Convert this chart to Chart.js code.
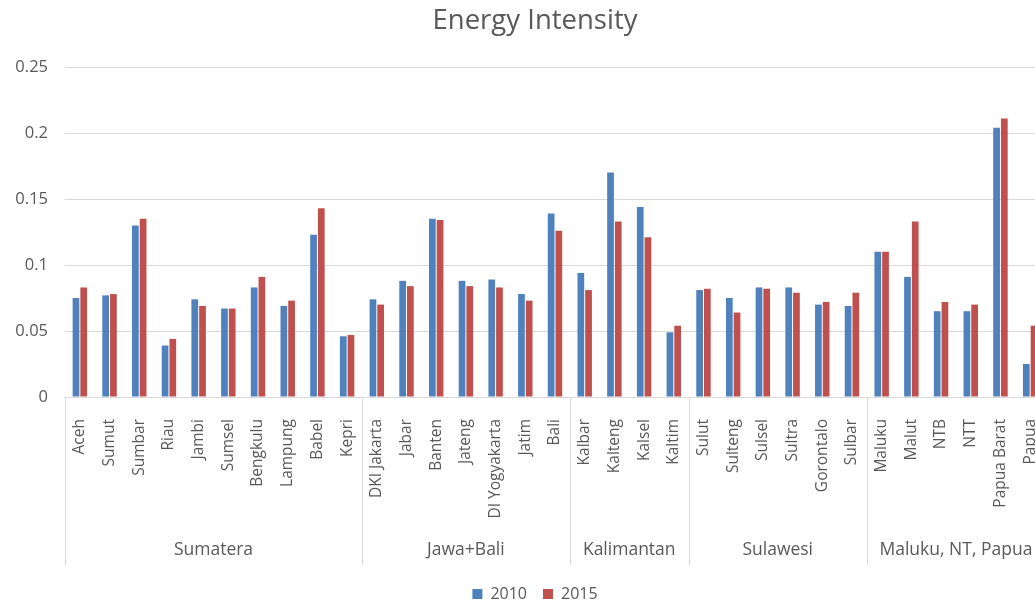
<!DOCTYPE html>
<html>
<head>
<meta charset="utf-8">
<script src="https://cdn.jsdelivr.net/npm/chart.js@4/dist/chart.umd.min.js"></script>
<style>
  html, body { margin: 0; padding: 0; background: #fff; overflow: hidden; }
  #wrap { width: 1072px; height: 612px; }
</style>
</head>
<body>
<div id="wrap"><canvas id="energyChart" width="1072" height="612"></canvas></div>
<script>
const provinces = ['Aceh', 'Sumut', 'Sumbar', 'Riau', 'Jambi', 'Sumsel', 'Bengkulu', 'Lampung', 'Babel', 'Kepri',
  'DKI Jakarta', 'Jabar', 'Banten', 'Jateng', 'DI Yogyakarta', 'Jatim', 'Bali',
  'Kalbar', 'Kalteng', 'Kalsel', 'Kaltim',
  'Sulut', 'Sulteng', 'Sulsel', 'Sultra', 'Gorontalo', 'Sulbar',
  'Maluku', 'Malut', 'NTB', 'NTT', 'Papua Barat', 'Papua'];

const intensity2010 = [0.075, 0.077, 0.130, 0.039, 0.074, 0.067, 0.083, 0.069, 0.123, 0.046,
  0.074, 0.088, 0.135, 0.088, 0.089, 0.078, 0.139,
  0.094, 0.170, 0.144, 0.049,
  0.081, 0.075, 0.083, 0.083, 0.070, 0.069,
  0.110, 0.091, 0.065, 0.065, 0.204, 0.025];

const intensity2015 = [0.083, 0.078, 0.135, 0.044, 0.069, 0.067, 0.091, 0.073, 0.143, 0.047,
  0.070, 0.084, 0.134, 0.084, 0.083, 0.073, 0.126,
  0.081, 0.133, 0.121, 0.054,
  0.082, 0.064, 0.082, 0.079, 0.072, 0.079,
  0.110, 0.133, 0.072, 0.070, 0.211, 0.054];

const islandNames = ['Sumatera', 'Jawa+Bali', 'Kalimantan', 'Sulawesi', 'Maluku, NT, Papua'];
const islandSizes = [10, 7, 4, 6, 6];

const gridGray = '#d9d9d9';
const textGray = '#595959';
const fontFamily = '"Open Sans", Lato, sans-serif';

// second row of the category axis: island names and the lines between them
const islandGroups = {
  id: 'islandGroups',
  afterDraw(chart) {
    const x = chart.scales.x;
    const ctx = chart.ctx;
    const top = chart.chartArea.bottom;
    const bottom = top + 168;
    const half = (x.getPixelForValue(1) - x.getPixelForValue(0)) / 2;

    ctx.save();
    ctx.strokeStyle = gridGray;
    ctx.lineWidth = 1;
    ctx.fillStyle = textGray;
    ctx.font = '17.5px ' + fontFamily;
    ctx.textAlign = 'center';
    ctx.textBaseline = 'middle';

    let start = 0;
    islandNames.forEach((name, i) => {
      const end = start + islandSizes[i];
      const left = x.getPixelForValue(start) - half;
      const right = x.getPixelForValue(end - 1) + half;
      const lx = Math.round(left) + 0.5;
      ctx.beginPath();
      ctx.moveTo(lx, top);
      ctx.lineTo(lx, bottom);
      ctx.stroke();
      ctx.fillText(name, (left + right) / 2, top + 153);
      start = end;
    });
    ctx.restore();
  }
};

new Chart(document.getElementById('energyChart'), {
  type: 'bar',
  data: {
    labels: provinces,
    datasets: [{
      label: '2010',
      data: intensity2010,
      backgroundColor: '#4f81bd',
      categoryPercentage: 0.52,
      barPercentage: 0.87
    }, {
      label: '2015',
      data: intensity2015,
      backgroundColor: '#c0504d',
      categoryPercentage: 0.52,
      barPercentage: 0.87
    }]
  },
  options: {
    responsive: false,
    animation: false,
    layout: { padding: { left: 13, right: 15, top: 0, bottom: 0 } },
    plugins: {
      title: {
        display: true,
        text: 'Energy Intensity',
        color: textGray,
        font: { family: fontFamily, size: 27.5, weight: 'normal' },
        padding: { top: 5, bottom: 29 }
      },
      legend: {
        position: 'bottom',
        labels: {
          color: textGray,
          font: { family: fontFamily, size: 16 },
          boxWidth: 10,
          boxHeight: 10,
          padding: 16
        }
      },
      tooltip: { enabled: false }
    },
    scales: {
      x: {
        grid: { display: false },
        border: { color: gridGray },
        ticks: {
          color: textGray,
          font: { family: fontFamily, size: 15.5 },
          minRotation: 90,
          maxRotation: 90,
          autoSkip: false,
          padding: 14
        },
        afterFit(scale) { scale.height = 173; }
      },
      y: {
        min: 0,
        max: 0.25,
        ticks: {
          stepSize: 0.05,
          color: textGray,
          font: { family: fontFamily, size: 16.5 },
          padding: 17,
          callback: (v) => String(Number(v.toFixed(2)))
        },
        grid: { color: gridGray, drawTicks: false },
        border: { display: false },
        afterFit(scale) { scale.width = 52; }
      },
      // empty right-hand margin of the plot
      yRight: {
        position: 'right',
        grid: { display: false },
        border: { display: false },
        ticks: { display: false },
        afterFit(scale) { scale.width = 12; }
      }
    }
  },
  plugins: [islandGroups]
});
</script>
</body>
</html>
